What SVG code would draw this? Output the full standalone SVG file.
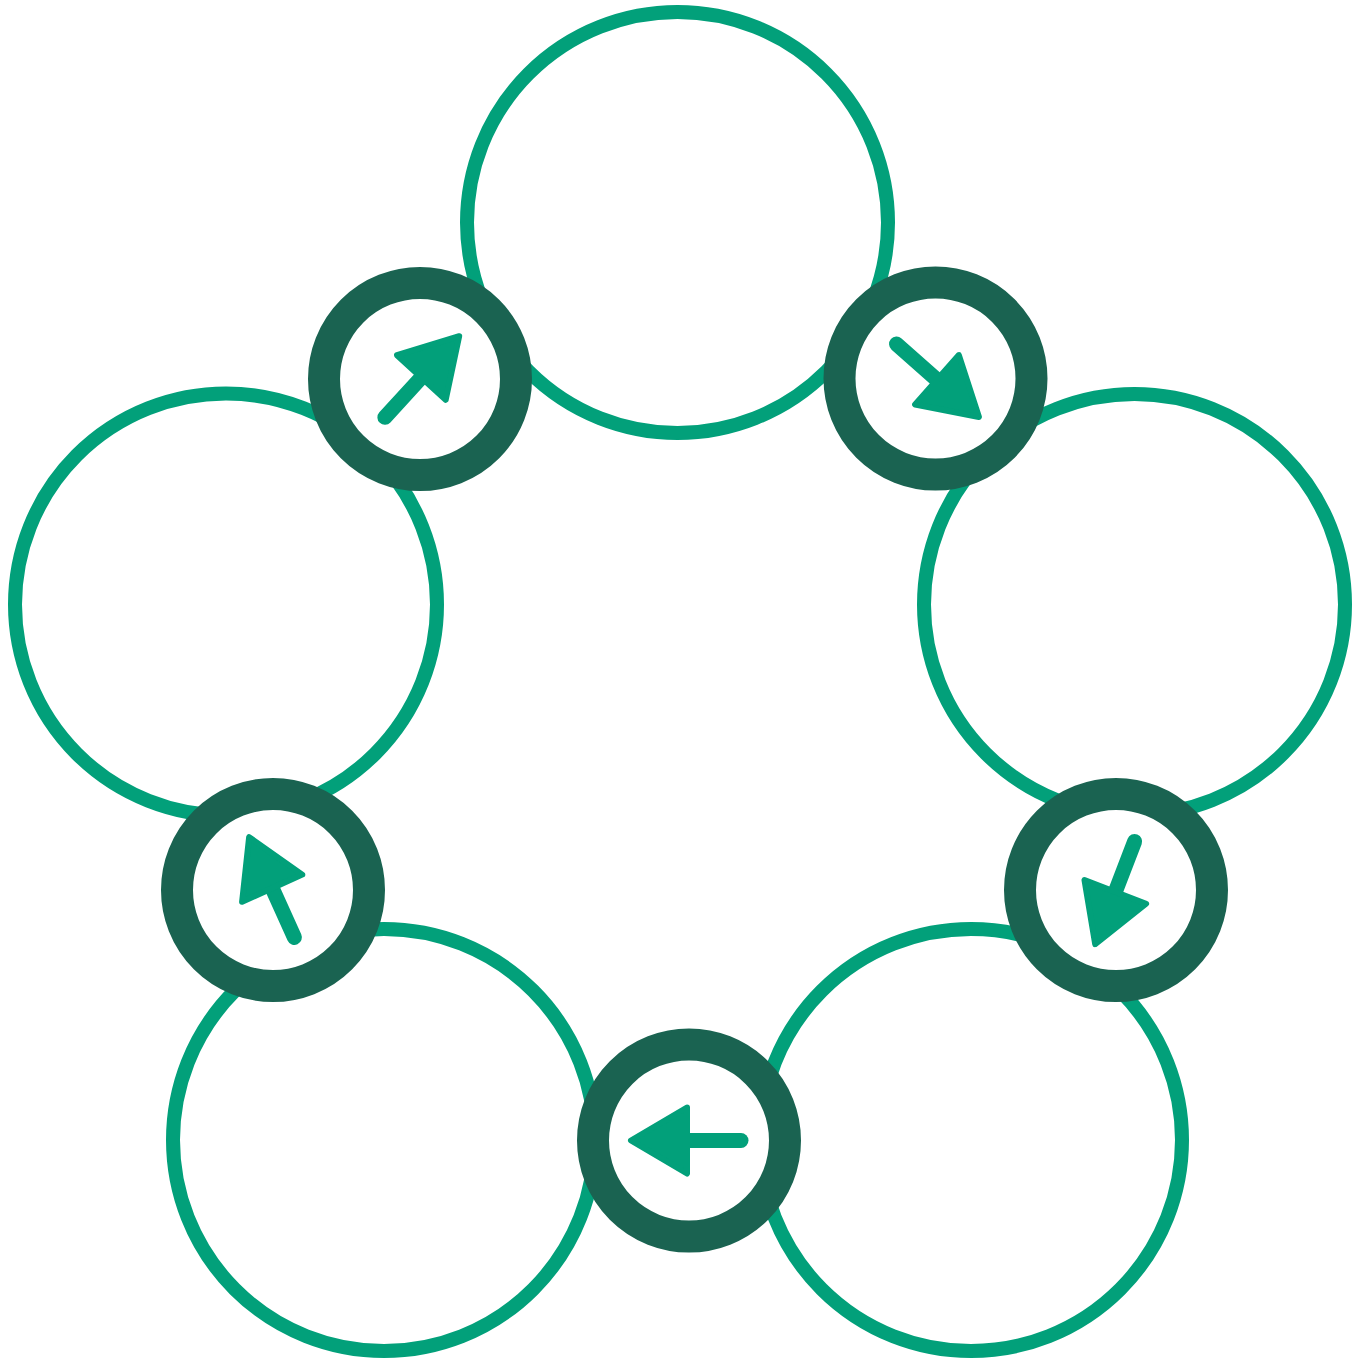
<svg xmlns="http://www.w3.org/2000/svg" width="1364" height="1359" viewBox="0 0 1364 1359">
  <style>
    .big { fill: #ffffff; stroke: #02a07a; stroke-width: 14; }
    .hub { fill: #ffffff; stroke: #1a6351; stroke-width: 32; }
    .shaft { fill: none; stroke: #02a07a; stroke-width: 15; stroke-linecap: round; }
    .head { fill: #02a07a; stroke: #02a07a; stroke-width: 6; stroke-linejoin: round; }
  </style>
  <defs>
    <g id="arrow">
      <line class="shaft" x1="-52" y1="0" x2="2" y2="0"/>
      <polygon class="head" points="58,0 2,-33 2,33"/>
    </g>
  </defs>
  <rect width="1364" height="1359" fill="#ffffff"/>
  <g id="circle-top"><circle class="big" cx="677.5" cy="222.5" r="210.5"/></g>
  <g id="circle-left"><circle class="big" cx="226" cy="604.5" r="211"/></g>
  <g id="circle-right"><circle class="big" cx="1134.5" cy="604.5" r="210.5"/></g>
  <g id="circle-bottom-left"><circle class="big" cx="384" cy="1140" r="211"/></g>
  <g id="circle-bottom-right"><circle class="big" cx="971" cy="1140" r="211"/></g>
  <g id="connectors">
    <g id="hub-top-left">
      <circle class="hub" cx="420" cy="379" r="96"/>
      <use href="#arrow" transform="translate(420,379) rotate(-47.5)"/>
    </g>
    <g id="hub-top-right">
      <circle class="hub" cx="935.5" cy="378.5" r="96"/>
      <use href="#arrow" transform="translate(935.5,378.5) rotate(41.5)"/>
    </g>
    <g id="hub-right">
      <circle class="hub" cx="1116" cy="890" r="96"/>
      <use href="#arrow" transform="translate(1116,890) rotate(111)"/>
    </g>
    <g id="hub-bottom">
      <circle class="hub" cx="689" cy="1140.5" r="96"/>
      <use href="#arrow" transform="translate(689,1140.5) rotate(180)"/>
    </g>
    <g id="hub-left">
      <circle class="hub" cx="273" cy="890" r="96"/>
      <use href="#arrow" transform="translate(273,890) rotate(-114.3)"/>
    </g>
  </g>
</svg>
